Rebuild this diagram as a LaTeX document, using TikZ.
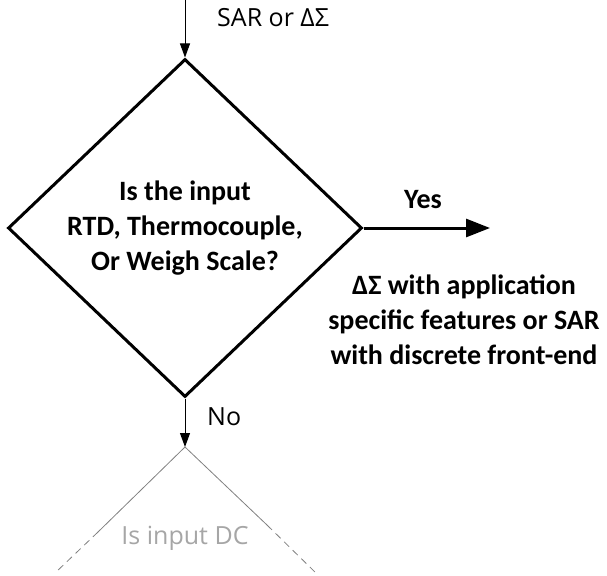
\documentclass[tikz,border=0pt]{standalone}
\usepackage{fontspec}
\setmainfont{Carlito}
\newfontfamily\lblfont{Open Sans}
\usetikzlibrary{arrows.meta,shapes.geometric}
\definecolor{grayline}{RGB}{128,128,128}
\definecolor{graytext}{RGB}{166,166,166}
\tikzset{
  decision/.style={draw, line width=3pt, shape=diamond, inner sep=0pt,
    minimum width=354pt, minimum height=338pt, align=center,
    font=\fontsize{28}{35}\selectfont\bfseries},
  thinarrow/.style={line width=1pt, -{Triangle[length=14pt,width=10pt]}},
  thickarrow/.style={line width=3pt, -{Triangle[length=24pt,width=18pt]}},
  lbl/.style={font=\lblfont\fontsize{25}{30}\selectfont, inner sep=0pt},
  boldlbl/.style={font=\fontsize{28}{35}\selectfont\bfseries, inner sep=0pt, align=center},
  ghost/.style={draw=grayline, line width=0.8pt},
  ghostdash/.style={draw=grayline, line width=0.8pt, dash pattern=on 7pt off 5pt},
}
\begin{document}
\begin{tikzpicture}[x=1pt,y=-1pt]
\useasboundingbox (0,0) rectangle (607,575);
\node[decision] (d) at (185,228) {Is the input\\RTD, Thermocouple,\\Or Weigh Scale?};
\coordinate (in) at (185,0);
\draw[thinarrow] (in) -- (d.north);
\node[lbl, anchor=west] (sar) at (217,18) {SAR or ΔΣ};
\coordinate (yesend) at (490,228);
\draw[thickarrow] (d.east) -- (yesend);
\node[boldlbl] (yes) at (423,200) {Yes};
\node[boldlbl] (res) at (464,320) {ΔΣ with application\\specific features or SAR\\with discrete front-end};
\coordinate (g) at (185,447);
\draw[thinarrow] (d.south) -- (g);
\node[lbl, anchor=west] (no) at (207,417) {No};
\coordinate (gl1) at (98,532);
\coordinate (gl2) at (55,573);
\coordinate (gr1) at (267,525);
\coordinate (gr2) at (318,575);
\draw[ghost] (gl1) -- (g) -- (gr1);
\draw[ghostdash] (gl1) -- (gl2);
\draw[ghostdash] (gr1) -- (gr2);
\node[lbl, text=graytext] (gtext) at (185,538) {Is input DC};
\end{tikzpicture}
\end{document}
